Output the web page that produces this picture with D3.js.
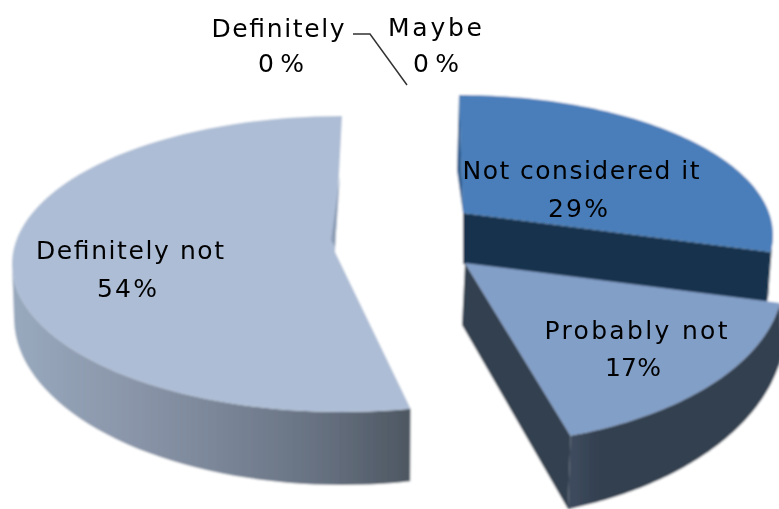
<!DOCTYPE html>
<html><head><meta charset="utf-8">
<style>html,body{margin:0;padding:0;background:#fff}svg{display:block}</style>
<script src="https://cdn.jsdelivr.net/npm/d3@7/dist/d3.min.js"></script>
</head><body><svg id="c" width="779" height="509"></svg>
<script>
// data
const categories = ["Not considered it","Probably not","Definitely not","Definitely","Maybe"];
const values = [29,17,54,0,0];
const percentLabels = ["29%","17%","54%","0%","0%"];

// layout: a perspective view of each exploded slice, as ellipses for the top and bottom rims
const W=779,H=509,toRad=Math.PI/180;
const views = {
 "Not considered it":{apex:[463,213],apexB:[463,264],top:[459,235,314,140],bot:[459,286,310,140],t:[0,97],fill:"#4a7eba",wall:"#14324d",cut:"#14324d"},
 "Probably not":{apex:[465,263],apexB:[462,325],top:[465,280,318,165],bot:[460,328,325,192],t:[98,160.6],fill:"#829fc8",wall:"url(#gPN)",cut:"#333f50"},
 "Definitely not":{apex:[335,252],apexB:[335,310],top:[342,264,330,148],bot:[342,318,328,167],t:[168,360],fill:"#adbdd5",wall:"url(#gDN)",cut:null}
};
const labelLayout = {
 "Not considered it":{x:[581,578],y:[179,217],w:[237,60]},
 "Probably not":{x:[636,633],y:[339,376],w:[183,56]},
 "Definitely not":{x:[130,127],y:[259,297],w:[188,60]},
 "Definitely":{x:[278,281],y:[37,72],w:[133,46]},
 "Maybe":{x:[435,436],y:[36,72],w:[94,46]}
};

const svg=d3.select("#c");
const defs=svg.append("defs");
function soft(id,dev){
  defs.append("filter").attr("id",id).attr("x","-5%").attr("y","-5%").attr("width","110%").attr("height","110%")
    .append("feGaussianBlur").attr("stdDeviation",dev);
}
soft("soft",0.9);
soft("softText",0.45);
function grad(id,x1,x2,stops){
  const g=defs.append("linearGradient").attr("id",id).attr("gradientUnits","userSpaceOnUse")
    .attr("x1",x1).attr("x2",x2).attr("y1",0).attr("y2",0);
  stops.forEach(s=>g.append("stop").attr("offset",s[0]).attr("stop-color",s[1]));
}
grad("gDN",12,410,[[0,"#98a9be"],[0.3,"#8a95a9"],[0.55,"#788496"],[0.8,"#646e7d"],[1,"#4d5762"]]);
grad("gPN",560,600,[[0,"#3f4c5f"],[0.35,"#3d4a5c"],[1,"#333f50"]]);

const root=svg.append("g").attr("filter","url(#soft)");
root.append("rect").attr("width",W).attr("height",H).attr("fill","#fff");

const pie=d3.pie().sort(null).value(d=>d);
const arcs=pie(values);
const line=d3.line();
const rim=(e,t)=>[e[0]+e[2]*Math.sin(t*toRad),e[1]-e[3]*Math.cos(t*toRad)];

arcs.forEach((a,i)=>{
  const v=views[categories[i]];
  if(!v||a.value===0) return;
  const angle=d3.scaleLinear().domain([a.startAngle,a.endAngle]).range(v.t);
  const samples=d3.range(81).map(k=>angle(a.startAngle+(a.endAngle-a.startAngle)*k/80));
  const topRim=samples.map(t=>rim(v.top,t));
  const botRim=samples.map(t=>rim(v.bot,t));
  const front=samples.filter(t=>Math.cos(t*toRad)<=0.02);
  const g=root.append("g");
  if(front.length){
    g.append("path").attr("d",line(front.map(t=>rim(v.top,t)).concat(front.slice().reverse().map(t=>rim(v.bot,t))))+"Z").attr("fill",v.wall);
  }
  if(v.cut){
    g.append("path").attr("d",line([v.apex,topRim[80],botRim[80],v.apexB])+"Z").attr("fill",v.cut);
  }
  g.append("path").attr("d",line([v.apex].concat(topRim))+"Z").attr("fill",v.fill);
  // thin inner wall glimpsed along the first/last cut
  if(categories[i]==="Not considered it"){
    const p=topRim[0];
    g.append("path").attr("d",line([p,[p[0]-2,p[1]+75],v.apex])+"Z").attr("fill","#2a5a8c");
  }
  if(categories[i]==="Definitely not"){
    const p=topRim[80];
    g.append("path").attr("d",line([[p[0]-2,p[1]+60],[v.apex[0],v.apex[1]-5],[v.apex[0]-4,v.apex[1]-12]])+"Z").attr("fill","#8d9db6");
  }
});

// labels and leader line
const labels=svg.append("g").attr("filter","url(#softText)");
labels.append("path").attr("d",line([[353,34],[370,34],[407,85]]))
  .attr("fill","none").attr("stroke","#333").attr("stroke-width",1.5);
categories.forEach((c,i)=>{
  const l=labelLayout[c];
  [c,percentLabels[i]].forEach((s,k)=>{
    labels.append("text").text(s).attr("x",l.x[k]).attr("y",l.y[k])
      .attr("text-anchor","middle")
      .attr("font-family","'DejaVu Sans',sans-serif").attr("font-size",25)
      .attr("textLength",l.w[k]).attr("lengthAdjust","spacing")
      .attr("fill","#000");
  });
});
</script></body></html>
